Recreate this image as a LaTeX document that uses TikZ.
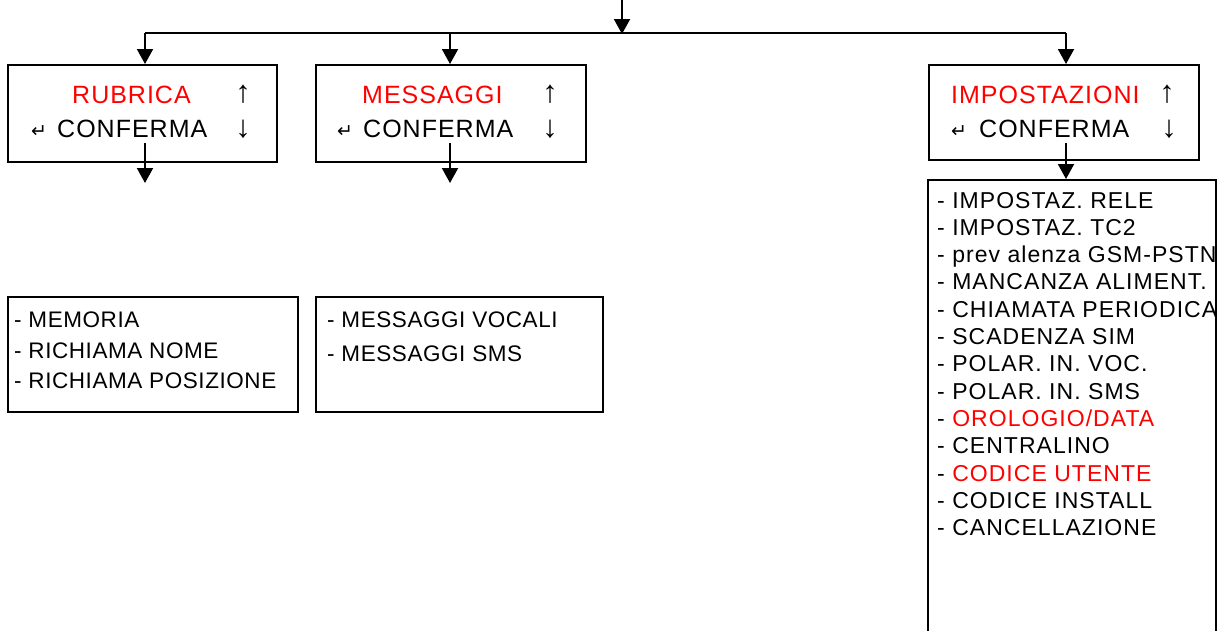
\documentclass[tikz,border=0pt]{standalone}
\usepackage{fontspec}
\setmainfont{Liberation Sans}[LetterSpace=4]
\newfontfamily\listfont{Liberation Sans}[LetterSpace=2.5]
\newfontfamily\biglistfont{Liberation Sans}[LetterSpace=4.5]
\newfontfamily\arrowfont{Liberation Sans}
\newfontfamily\dvfont{DejaVu Sans}
\usetikzlibrary{arrows.meta}
\definecolor{menured}{RGB}{255,0,0}
\tikzset{
  box/.style={draw, line width=2pt, inner sep=0pt},
  conn/.style={line width=2pt, -{Triangle[width=16pt,length=15pt]}},
  line/.style={line width=2pt},
  head/.style={anchor=base west, inner sep=0pt, font=\fontsize{25}{30}\selectfont},
  item/.style={anchor=base west, inner sep=0pt, font=\listfont\fontsize{22.5}{26}\selectfont},
  bigitem/.style={anchor=base west, inner sep=0pt, font=\biglistfont\fontsize{23}{26}\selectfont},
  arr/.style={anchor=base, inner sep=0pt, font=\arrowfont\fontsize{31}{34}\selectfont},
  ret/.style={anchor=base west, inner sep=0pt, font=\dvfont\fontsize{19}{22}\selectfont},
}
\begin{document}
\begin{tikzpicture}[x=1pt,y=-1pt]
\useasboundingbox (0,0) rectangle (1223,630);
\clip (0,0) rectangle (1223,630);
% menu boxes
\node[box, minimum width=269pt, minimum height=97pt] (rubrica) at (142.5,113.5) {};
\node[box, minimum width=270pt, minimum height=97pt] (messaggi) at (451,113.5) {};
\node[box, minimum width=270pt, minimum height=95pt] (impost) at (1064,112.5) {};
% list boxes
\node[box, minimum width=290pt, minimum height=115pt] (listR) at (153,354.5) {};
\node[box, minimum width=287pt, minimum height=115pt] (listM) at (459.5,354.5) {};
\node[box, minimum width=288pt, minimum height=470pt] (listI) at (1072,415) {};
% box texts
\node[head, text=menured] (t1) at (72,103) {RUBRICA};
\node[head] (t2) at (57,137) {CONFERMA};
\node[ret] (r1) at (31,137) {↵};
\node[arr] (u1) at (243,102) {↑};
\node[arr] (d1) at (243,137) {↓};
\node[head, text=menured] (t3) at (362,103) {MESSAGGI};
\node[head] (t4) at (363,137) {CONFERMA};
\node[ret] (r2) at (337,137) {↵};
\node[arr] (u2) at (550,102) {↑};
\node[arr] (d2) at (550,137) {↓};
\node[head, text=menured] (t5) at (951,103) {IMPOSTAZIONI};
\node[head] (t6) at (979,137) {CONFERMA};
\node[ret] (r3) at (951,137) {↵};
\node[arr] (u3) at (1167,102) {↑};
\node[arr] (d3) at (1169,137) {↓};
% list texts
\node[item] (a1) at (14,327) {- MEMORIA};
\node[item] (a2) at (14,358) {- RICHIAMA NOME};
\node[item] (a3) at (14,388) {- RICHIAMA POSIZIONE};
\node[item] (b1) at (327,327) {- MESSAGGI VOCALI};
\node[item] (b2) at (327,361) {- MESSAGGI SMS};
\node[bigitem] (c1) at (937,208) {- IMPOSTAZ. RELE};
\node[bigitem] (c2) at (937,235.3) {- IMPOSTAZ. TC2};
\node[bigitem] (c3) at (937,262.6) {- prev alenza GSM-PSTN};
\node[bigitem] (c4) at (937,289.9) {- MANCANZA ALIMENT.};
\node[bigitem] (c5) at (937,317.2) {- CHIAMATA PERIODICA};
\node[bigitem] (c6) at (937,344.5) {- SCADENZA SIM};
\node[bigitem] (c7) at (937,371.8) {- POLAR. IN. VOC.};
\node[bigitem] (c8) at (937,399.1) {- POLAR. IN. SMS};
\node[bigitem] (c9) at (937,426.4) {- \textcolor{menured}{OROLOGIO/DATA}};
\node[bigitem] (c10) at (937,453.7) {- CENTRALINO};
\node[bigitem] (c11) at (937,481) {- \textcolor{menured}{CODICE UTENTE}};
\node[bigitem] (c12) at (937,508.3) {- CODICE INSTALL};
\node[bigitem] (c13) at (937,535.6) {- CANCELLAZIONE};
% connectors
\coordinate (in) at (622,0);
\coordinate (bus) at (622,33);
\coordinate (busL) at (145,33);
\coordinate (busM) at (450,33);
\coordinate (busR) at (1066,33);
\draw[conn] (in) -- ([yshift=-1pt]bus);
\draw[line] (busL) -- (busR);
\draw[conn] (busL) -- (busL |- rubrica.north);
\draw[conn] (busM) -- (busM |- messaggi.north);
\draw[conn] (busR) -- (busR |- impost.north);
\coordinate (o1) at (145,143);
\coordinate (e1) at (145,183);
\coordinate (o2) at (450,143);
\coordinate (e2) at (450,183);
\coordinate (o3) at (1066,143);
\draw[conn] (o1) -- (e1);
\draw[conn] (o2) -- (e2);
\draw[conn] (o3) -- (o3 |- listI.north);
\end{tikzpicture}
\end{document}
